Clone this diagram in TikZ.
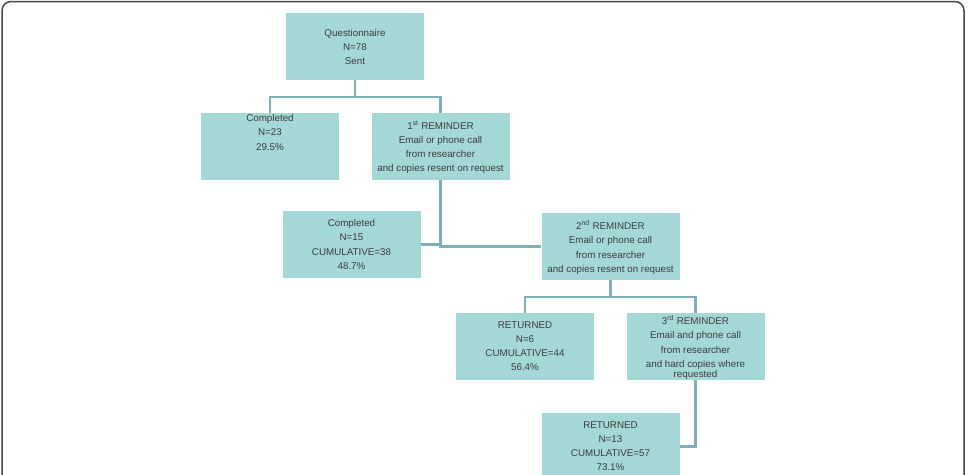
\documentclass[tikz,border=0pt]{standalone}
\usepackage{fontspec}
\setmainfont{Liberation Sans}
\usepackage{tikz}
\usetikzlibrary{positioning}
\definecolor{boxc}{HTML}{A3D8D6}
\definecolor{linkc}{HTML}{7DB1B5}
\definecolor{txtc}{HTML}{3C3C3C}
\definecolor{framec}{HTML}{474747}
\newcommand{\stagebox}[4]{%
  \node[stage] (#1) at #2 {};
  \node[stagetext, below=#3 of #1.north] (#1t) {#4};
}

\begin{document}
\begin{tikzpicture}[x=1pt, y=-1pt,
      stage/.style={rectangle, fill=boxc, minimum width=138pt,
        minimum height=67pt, inner sep=0pt},
      stagetext/.style={align=center, text=txtc, inner sep=0pt,
        font=\fontsize{9.8}{14.2}\selectfont},
      link/.style={draw=linkc, line width=2.6pt}]
    \clip (0,0) rectangle (971,474);
    \draw[framec, line width=1.5pt, rounded corners=9pt]
      (2,1.5) rectangle (964,520);
    % boxes
    \stagebox{q}{(355,46.5)}{16pt}{Questionnaire\\N=78\\Sent}
    \stagebox{c1}{(270,146.5)}{1.5pt}{Completed\\N=23\\29.5\%}
    \stagebox{r1}{(440.5,146.5)}{8pt}{1\textsuperscript{st} REMINDER\\
      Email or phone call\\from researcher\\and copies resent on request}
    \stagebox{c2}{(351.5,244.5)}{8.5pt}{Completed\\N=15\\CUMULATIVE=38\\48.7\%}
    \stagebox{r2}{(610.5,246.5)}{8pt}{2\textsuperscript{nd} REMINDER\\
      Email or phone call\\from researcher\\and copies resent on request}
    \stagebox{ret1}{(525,346.5)}{8.5pt}{RETURNED\\N=6\\CUMULATIVE=44\\56.4\%}
    \stagebox{r3}{(695.5,346.5)}{3pt}{3\textsuperscript{rd} REMINDER\\
      Email and phone call\\from researcher\\and hard copies where\\[-3.5pt]
      requested}
    \stagebox{ret2}{(610.5,446.5)}{8.5pt}{RETURNED\\N=13\\CUMULATIVE=57\\73.1\%}
    % connectors
    \coordinate (j1) at (355,97);
    \coordinate (j2) at (610.5,297);
    \draw[link] (q) -- (j1);
    \draw[link] (c1.north) |- (j1) -| (r1.north);
    \draw[link] (r1.south) |- (r2.west);
    \draw[link] (c2.east) -- (c2.east -| r1.south);
    \draw[link] (r2.south) -- (j2);
    \draw[link] (ret1.north) |- (j2) -| (r3.north);
    \draw[link] (r3.south) |- (ret2.east);
  \end{tikzpicture}
\end{document}
